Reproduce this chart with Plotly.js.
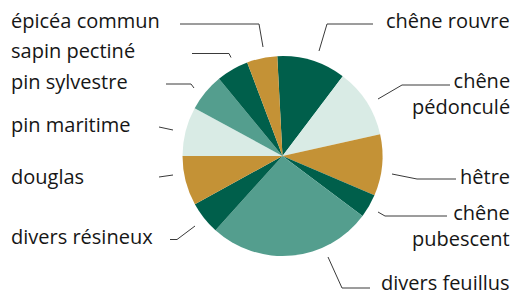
<!DOCTYPE html>
<html>
<head>
<meta charset="utf-8">
<script src="https://cdn.plot.ly/plotly-3.0.1.min.js"></script>
<style>html,body{margin:0;padding:0;background:#fff;}#chart{width:522px;height:295px;}</style>
</head>
<body>
<div id="chart"></div>
<script>
// Data (share of volume, %), clockwise from top
const categories = ["chêne rouvre", "chêne pédonculé", "hêtre", "chêne pubescent", "divers feuillus",
  "divers résineux", "douglas", "pin maritime", "pin sylvestre", "sapin pectiné", "épicéa commun"];
const values = [11.1, 11.2, 9.9, 3.8, 26.4, 5.3, 8.0, 7.9, 6.1, 5.2, 4.9];
const displayLabels = ["chêne rouvre", "chêne<br>pédonculé", "hêtre", "chêne<br>pubescent", "divers feuillus",
  "divers résineux", "douglas", "pin maritime", "pin sylvestre", "sapin pectiné", "épicéa commun"];

// Styles
const DG = "#005f4b", LM = "#d9ebe5", GO = "#c49236", TE = "#549e8e";
const sliceColors = [DG, LM, GO, DG, TE, DG, GO, LM, TE, DG, GO];

const W = 522, H = 295;
const px = x => x / W, py = y => 1 - y / H;

// Label placement (layout only): text anchor + leader polyline in pixels
const labelLayout = [
  {x: 512, y: 21, anchor: "right", line: [[373,24],[327,24],[319,51]]},
  {x: 512, y: 94, anchor: "right", line: [[450,85],[402,85],[378,99]]},
  {x: 512, y: 176, anchor: "right", line: [[456,179],[417,179],[392,174]]},
  {x: 512, y: 225, anchor: "right", line: [[447,216],[385,216],[378,212]]},
  {x: 512, y: 282, anchor: "right", line: [[370,288],[342,288],[328,257]]},
  {x: 9, y: 236, anchor: "left", line: [[170,239.5],[177,239.5],[195,226]]},
  {x: 9, y: 176, anchor: "left", line: [[159,177],[173,175]]},
  {x: 9, y: 124, anchor: "left", line: [[159,127],[173,130]]},
  {x: 9, y: 81, anchor: "left", line: [[166,84],[191,84],[194,88]]},
  {x: 9, y: 51, anchor: "left", line: [[192,53.5],[229,53.5],[231,57.5]]},
  {x: 9, y: 21, anchor: "left", line: [[180,24],[259,24],[263,47]]}
];

const annotations = labelLayout.map((l, i) => ({
  x: px(l.x), y: py(l.y), xref: "paper", yref: "paper",
  xanchor: l.anchor, yanchor: "middle", align: l.anchor,
  text: displayLabels[i], showarrow: false,
  font: {family: "'Open Sans', sans-serif", size: 20, color: "#161616"}
}));

const shapes = labelLayout.map(l => ({
  type: "path", xref: "paper", yref: "paper",
  path: l.line.map((p, j) => (j ? "L" : "M") + px(p[0]) + "," + py(p[1])).join(" "),
  line: {color: "#3a3a3a", width: 1}
}));

const trace = {
  type: "pie",
  labels: categories,
  values: values,
  sort: false,
  direction: "clockwise",
  rotation: -3,
  textinfo: "none",
  hoverinfo: "label+percent",
  marker: {colors: sliceColors, line: {width: 0}},
  domain: {x: [182.5 / W, 382.5 / W], y: [py(256), py(56)]},
  showlegend: false
};

Plotly.newPlot("chart", [trace], {
  width: W, height: H,
  margin: {l: 0, r: 0, t: 0, b: 0},
  paper_bgcolor: "#fff",
  annotations: annotations,
  shapes: shapes
}, {staticPlot: true, displayModeBar: false});
</script>
</body>
</html>
